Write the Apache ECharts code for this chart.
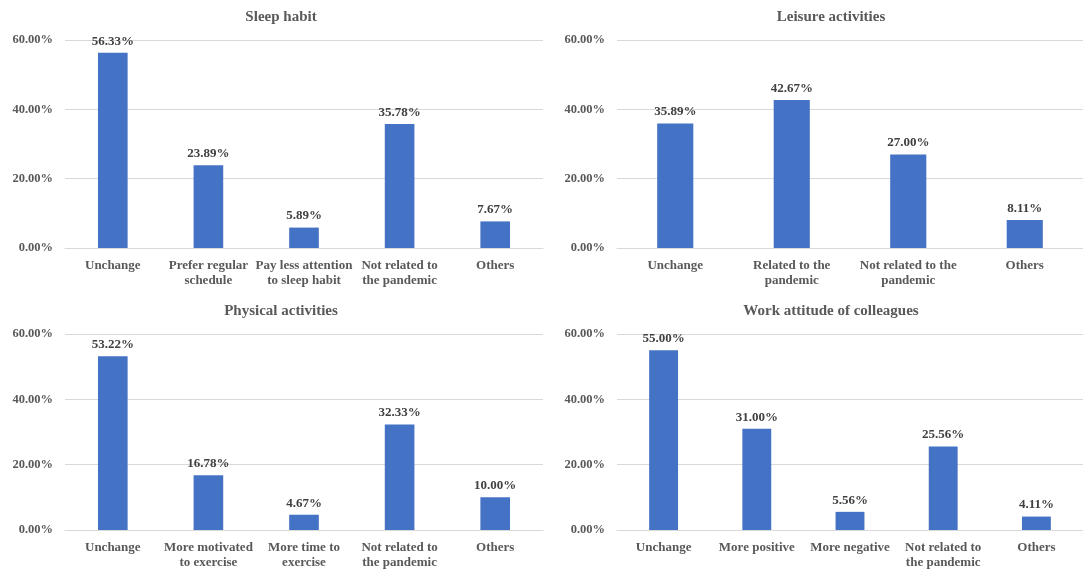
<!DOCTYPE html>
<html>
<head>
<meta charset="utf-8">
<script src="https://cdn.jsdelivr.net/npm/echarts@6/dist/echarts.min.js"></script>
<style>
  html, body { margin: 0; padding: 0; background: #ffffff; }
  #chart { width: 1083px; height: 570px; }
</style>
</head>
<body>
<div id="chart"></div>
<script>
// Survey results (percent of respondents) for four lifestyle topics
const sleepTitle = 'Sleep habit';
const sleepCategories = ['Unchange', 'Prefer regular\nschedule', 'Pay less attention\nto sleep habit', 'Not related to\nthe pandemic', 'Others'];
const sleepValues = [56.33, 23.89, 5.89, 35.78, 7.67];

const leisureTitle = 'Leisure activities';
const leisureCategories = ['Unchange', 'Related to the\npandemic', 'Not related to the\npandemic', 'Others'];
const leisureValues = [35.89, 42.67, 27.00, 8.11];

const physicalTitle = 'Physical activities';
const physicalCategories = ['Unchange', 'More motivated\nto exercise', 'More time to\nexercise', 'Not related to\nthe pandemic', 'Others'];
const physicalValues = [53.22, 16.78, 4.67, 32.33, 10.00];

const workTitle = 'Work attitude of colleagues';
const workCategories = ['Unchange', 'More positive', 'More negative', 'Not related to\nthe pandemic', 'Others'];
const workValues = [55.00, 31.00, 5.56, 25.56, 4.11];

const yTicks = { min: 0, max: 60, interval: 20 };

const FONT = '"Liberation Serif", "Times New Roman", serif';
const TEXT = '#595959';
const LABEL = '#404040';
const BAR = '#4472C4';
const GRIDLINE = '#D9D9D9';

const panels = [
  { title: sleepTitle, cats: sleepCategories, vals: sleepValues,
    grid: { left: 65, top: 40, width: 478, height: 208 }, titleX: 281, titleY: 10 },
  { title: leisureTitle, cats: leisureCategories, vals: leisureValues,
    grid: { left: 617, top: 40, width: 477, height: 208 }, titleX: 831, titleY: 10 },
  { title: physicalTitle, cats: physicalCategories, vals: physicalValues,
    grid: { left: 65, top: 334, width: 478, height: 199 }, titleX: 281, titleY: 304 },
  { title: workTitle, cats: workCategories, vals: workValues,
    grid: { left: 617, top: 334, width: 477, height: 199 }, titleX: 831, titleY: 304 }
];

const option = {
  backgroundColor: '#ffffff',
  animation: false,
  title: panels.map(p => ({
    text: p.title,
    left: p.titleX,
    top: p.titleY,
    textAlign: 'center',
    padding: 0,
    textStyle: { fontFamily: FONT, fontSize: 15, fontWeight: 'bold', color: TEXT }
  })),
  grid: panels.map(p => Object.assign({ containLabel: false }, p.grid)),
  xAxis: panels.map((p, i) => ({
    type: 'category',
    gridIndex: i,
    data: p.cats,
    axisLine: { show: true, lineStyle: { color: GRIDLINE, width: 1 } },
    axisTick: { show: false },
    axisLabel: {
      interval: 0,
      margin: 10,
      fontFamily: FONT,
      fontSize: 13,
      fontWeight: 'bold',
      color: TEXT,
      lineHeight: 15
    }
  })),
  yAxis: panels.map((p, i) => ({
    type: 'value',
    gridIndex: i,
    min: yTicks.min,
    max: yTicks.max,
    interval: yTicks.interval,
    axisLine: { show: false },
    axisTick: { show: false },
    splitLine: { show: true, lineStyle: { color: GRIDLINE, width: 1 } },
    axisLabel: {
      margin: 12,
      fontFamily: FONT,
      fontSize: 12.5,
      fontWeight: 'bold',
      color: TEXT,
      formatter: v => v.toFixed(2) + '%'
    }
  })),
  series: panels.map((p, i) => ({
    type: 'bar',
    xAxisIndex: i,
    yAxisIndex: i,
    data: p.vals,
    barWidth: '31%',
    itemStyle: { color: BAR },
    label: {
      show: true,
      position: 'top',
      distance: 5,
      fontFamily: FONT,
      fontSize: 13,
      fontWeight: 'bold',
      color: LABEL,
      formatter: d => d.value.toFixed(2) + '%'
    }
  }))
};

const chart = echarts.init(document.getElementById('chart'), null, { renderer: 'canvas' });
chart.setOption(option);
</script>
</body>
</html>
